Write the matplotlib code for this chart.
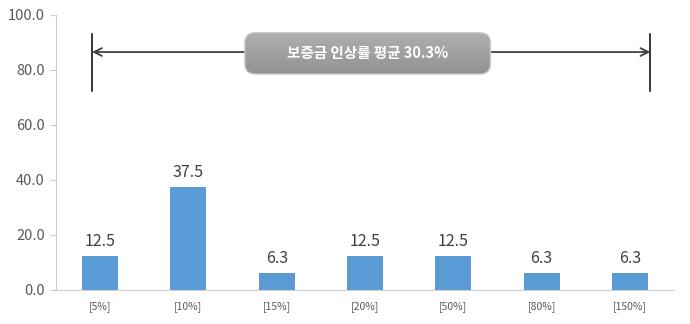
import matplotlib
matplotlib.use("Agg")
import matplotlib.pyplot as plt
import numpy as np
from matplotlib.patches import FancyBboxPatch

plt.rcParams['font.family'] = ['Noto Sans CJK KR', 'DejaVu Sans']

categories = ['[5%]', '[10%]', '[15%]', '[20%]', '[50%]', '[80%]', '[150%]']
values = [12.5, 37.5, 6.3, 12.5, 12.5, 6.3, 6.3]
y_ticks = [0, 20, 40, 60, 80, 100]
avg_label = '보증금 인상률 평균 30.3%'

fig = plt.figure(figsize=(6.9, 3.24), dpi=100)
ax = fig.add_axes([0.081, 0.105, 0.896, 0.849])

x = np.arange(len(categories))
ax.bar(x, values, width=0.41, color='#5B9BD5', zorder=2)
for xi, v in zip(x, values):
    ax.text(xi, v + 2, f'{v:.1f}', ha='center', va='bottom', fontsize=11.5, color='#404040')

ax.set_xlim(-0.5, 6.5)
ax.set_ylim(0, 100)
ax.set_yticks(y_ticks)
ax.set_yticklabels([f'{t:.1f}' for t in y_ticks], fontsize=10.5, color='#595959')
ax.set_xticks(x)
ax.set_xticklabels(categories, fontsize=7.5, color='#595959')
ax.tick_params(axis='x', length=0, pad=8)
ax.tick_params(axis='y', length=4, color='#d0d0d0', pad=4)
for s in ['top', 'right']:
    ax.spines[s].set_visible(False)
ax.spines['left'].set_color('#d0d0d0')
ax.spines['bottom'].set_color('#d0d0d0')

# range arrow
x0, x1 = -0.09, 6.23
ax.plot([x0, x0], [72.5, 93], color='black', lw=1.1)
ax.plot([x1, x1], [72.5, 93], color='black', lw=1.1)
ax.annotate('', xy=(x0, 86.5), xytext=(x1, 86.5),
            arrowprops=dict(arrowstyle='<->', color='#404040', lw=1.3,
                            shrinkA=0, shrinkB=0, mutation_scale=14))

# gray rounded box with gradient
bx0, bx1, by0, by1 = 1.64, 4.42, 78.5, 93.5
box = FancyBboxPatch((bx0, by0), bx1 - bx0, by1 - by0,
                     boxstyle='round,pad=0,rounding_size=0.12',
                     mutation_aspect=30, facecolor='none',
                     edgecolor='#c8c8c8', lw=1, zorder=4)
ax.add_patch(box)
grad = np.linspace(0, 1, 100).reshape(-1, 1)
im = ax.imshow(grad, extent=[bx0, bx1, by0, by1], aspect='auto',
               cmap=matplotlib.colors.LinearSegmentedColormap.from_list('g', ['#929292', '#b0b0b0']),
               origin='lower', zorder=3)
im.set_clip_path(box)
ax.text((bx0 + bx1) / 2, (by0 + by1) / 2, avg_label, ha='center', va='center',
        fontsize=10.5, fontweight='bold', color='white', zorder=5)

fig.savefig('out.png', dpi=100)
